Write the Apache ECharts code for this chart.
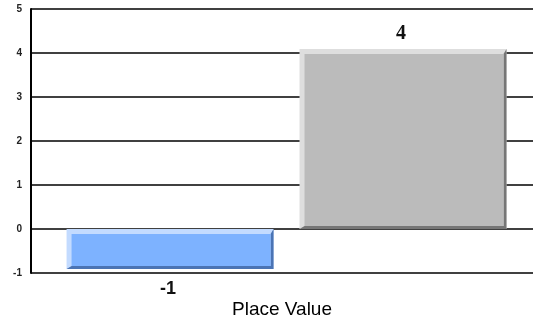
<!DOCTYPE html>
<html><head><meta charset="utf-8">
<script src="https://cdn.jsdelivr.net/npm/echarts@6/dist/echarts.min.js"></script>
<style>html,body{margin:0;padding:0;background:#fff}#c{width:534px;height:321px}</style>
</head><body><div id="c"></div>
<script>
const categories = ['Bar 1', 'Bar 2'];
const values = [-1, 4];
const yTicks = [-1, 0, 1, 2, 3, 4, 5];
const axisTitle = 'Place Value';

const palette = [
  { main: '#7DB2FF', light: '#C3DBFF', dark: '#4B74B4', family: '"Liberation Sans", Arial, sans-serif', size: 18 },
  { main: '#BBBBBB', light: '#DEDEDE', dark: '#767676', family: '"Liberation Serif", "DejaVu Serif", serif', size: 20 }
];

const chart = echarts.init(document.getElementById('c'), null, { renderer: 'canvas' });

function renderItem(params, api) {
  const i = api.value(0), v = api.value(1);
  const p0 = api.coord([i, 0]);
  const p1 = api.coord([i, v]);
  const w = 207;
  const x0 = p0[0] - w / 2;
  const yEnd = p1[1] - 4;
  const top = Math.min(p0[1], yEnd), bot = Math.max(p0[1], yEnd);
  const h = bot - top;
  const L = 5, D = 3;
  const c = palette[i];
  const children = [
    { type: 'rect', shape: { x: x0, y: top, width: w, height: h }, style: { fill: c.light } },
    { type: 'polygon', shape: { points: [[x0 + w, top], [x0 + w, bot], [x0, bot], [x0 + L, bot - D], [x0 + w - D, bot - D], [x0 + w - D, top + L]] }, style: { fill: c.dark } },
    { type: 'rect', shape: { x: x0 + L, y: top + L, width: w - L - D, height: h - L - D }, style: { fill: c.main } }
  ];
  const ly = v >= 0 ? top - 15 : bot + 20;
  children.push({ type: 'text', x: p0[0] - 2, y: ly, style: { text: String(v), align: 'center', verticalAlign: 'middle', font: 'bold ' + c.size + 'px ' + c.family, fill: '#111' } });
  return { type: 'group', children };
}

chart.setOption({
  animation: false,
  grid: { left: 31, right: 1, top: 9, bottom: 48, containLabel: false, outerBoundsMode: 'none' },
  xAxis: {
    type: 'value', min: -0.597, max: 1.558,
    axisLine: { show: false }, axisTick: { show: false }, axisLabel: { show: false }, splitLine: { show: false },
    name: axisTitle, nameLocation: 'middle', nameGap: 27,
    nameTextStyle: { fontFamily: 'Liberation Sans', fontSize: 19, color: '#000' }
  },
  yAxis: {
    type: 'value', min: yTicks[0], max: yTicks[yTicks.length - 1], interval: 1,
    axisLine: { show: true, onZero: false, lineStyle: { color: '#000', width: 2 } },
    axisTick: { show: false },
    axisLabel: { margin: 9, fontSize: 10, fontWeight: 'bold', color: '#222', fontFamily: 'Liberation Sans' },
    splitLine: { show: true, lineStyle: { color: '#000', width: 1.5 } }
  },
  series: [{
    type: 'custom',
    renderItem: renderItem,
    encode: { x: 0, y: 1 },
    data: values.map((v, i) => [i, v, categories[i]])
  }]
});
</script></body></html>
